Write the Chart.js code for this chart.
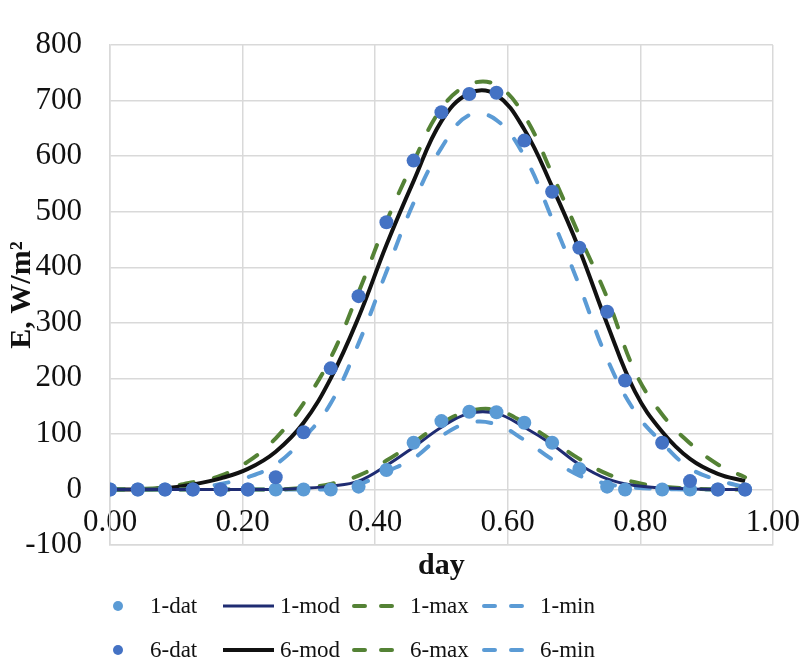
<!DOCTYPE html>
<html>
<head>
<meta charset="utf-8">
<title>Irradiance over the day</title>
<script src="https://cdn.jsdelivr.net/npm/chart.js@4.4.1/dist/chart.umd.min.js"></script>
<style>
  html, body { margin: 0; padding: 0; background: #ffffff; }
  #wrap { width: 805px; height: 670px; }
</style>
</head>
<body>
<div id="wrap"><canvas id="chart" width="805" height="670"></canvas></div>
<script>
// Measurement times (fraction of a day)
const datDays = [0.000, 0.042, 0.083, 0.125, 0.167, 0.208, 0.250, 0.292, 0.333, 0.375, 0.417, 0.458,
                 0.500, 0.542, 0.583, 0.625, 0.667, 0.708, 0.750, 0.777, 0.833, 0.875, 0.917, 0.958];
// Model evaluation times (fraction of a day)
const modelDays = [0.000, 0.042, 0.083, 0.125, 0.167, 0.208, 0.250, 0.292, 0.333, 0.375, 0.417, 0.458,
                   0.500, 0.542, 0.583, 0.625, 0.667, 0.708, 0.750, 0.792, 0.833, 0.875, 0.917, 0.958];

// Irradiance E, W/m2
const dat1 = [0, 0, 0, 0, 0, 0, 0, 0, 0, 5, 35, 84, 123, 140, 139, 120, 84, 37, 5, 0, 0, 0, 0, 0];
const mod1 = [0, 0, 0, 0, 0, 0, 0, 2, 6, 15, 43, 76, 112, 137, 137, 112, 81, 45, 19, 7, 3, 1, 0, 0];
const max1 = [0, 0, 0, 0, 0, 0, 0, 3, 10, 25, 52, 84, 119, 141, 143, 120, 88, 55, 28, 13, 5, 2, 0, 0];
const min1 = [0, 0, 0, 0, 0, 0, 0, 0, 1, 9, 32, 56, 96, 120, 117, 89, 54, 25, 10, 3, 1, 0, 0, 0];

const dat6 = [0, 0, 0, 0, 0, 0, 22, 103, 218, 348, 481, 592, 679, 712, 714, 628, 536, 435, 320, 196, 84, 15, 0, 0];
const mod6 = [0, 0, 2, 9, 20, 37, 68, 120, 200, 310, 440, 555, 663, 713, 710, 648, 545, 432, 298, 176, 104, 55, 28, 15];
const max6 = [0, 1, 4, 13, 25, 50, 92, 155, 237, 355, 482, 590, 686, 729, 728, 673, 568, 457, 345, 212, 135, 83, 45, 22];
const min6 = [0, 0, 0, 2, 10, 22, 45, 92, 155, 263, 392, 516, 615, 674, 665, 600, 487, 367, 235, 140, 84, 38, 17, 4];

// Axis ticks
const xTickValues = [0, 0.2, 0.4, 0.6, 0.8, 1.0];
const yTickValues = [-100, 0, 100, 200, 300, 400, 500, 600, 700, 800];

const COLORS = {
  light: '#5b9bd5',
  dark: '#4472c4',
  navy: '#1f2c72',
  black: '#111111',
  green: '#548235',
  grid: '#d9d9d9',
  text: '#111111'
};
const SERIF = '"Liberation Serif", "Times New Roman", serif';

const pts = (xs, ys) => xs.map((x, i) => ({ x: x, y: ys[i] }));

const markerSet = (label, xs, ys, color, order) => ({
  label, data: pts(xs, ys), showLine: false,
  pointRadius: 7, pointHoverRadius: 7, pointBorderWidth: 0,
  pointBackgroundColor: color, backgroundColor: color, borderColor: color,
  order
});
const curveSet = (label, ys, color, width, dash) => ({
  label, data: pts(modelDays, ys), showLine: true,
  borderColor: color, backgroundColor: color, borderWidth: width,
  borderDash: dash || [], borderCapStyle: dash ? 'round' : 'butt', borderJoinStyle: 'round',
  pointRadius: 0, pointHoverRadius: 0, tension: 0.4, fill: false,
  order: 2
});

const LONG_DASH = [14, 21];

const datasets = [
  markerSet('1-dat', datDays, dat1, COLORS.light, 1),
  curveSet('1-mod', mod1, COLORS.navy, 3),
  curveSet('1-max', max1, COLORS.green, 4, LONG_DASH),
  curveSet('1-min', min1, COLORS.light, 4, LONG_DASH),
  markerSet('6-dat', datDays, dat6, COLORS.dark, 0),
  curveSet('6-mod', mod6, COLORS.black, 4),
  curveSet('6-max', max6, COLORS.green, 4, LONG_DASH),
  curveSet('6-min', min6, COLORS.light, 4, LONG_DASH)
];

// Two-row legend under the plot: symbol span and text start for each column
const legendLayout = {
  rowY: [607, 651],
  cols: [
    { from: 118, to: 118, text: 150 },
    { from: 223, to: 274, text: 280 },
    { from: 352, to: 394, text: 410 },
    { from: 482, to: 524, text: 540 }
  ],
  fontSize: 23,
  markerRadius: 5,
  dashWidth: 4
};

const seriesLegend = {
  id: 'seriesLegend',
  afterDraw(chart) {
    const ctx = chart.ctx;
    const sets = chart.data.datasets;
    const L = legendLayout;
    ctx.save();
    ctx.font = L.fontSize + 'px ' + SERIF;
    ctx.textBaseline = 'middle';
    ctx.textAlign = 'left';
    L.rowY.forEach((y, r) => {
      L.cols.forEach((col, c) => {
        const ds = sets[r * L.cols.length + c];
        if (!ds) return;
        const sy = y - 1;
        if (!ds.showLine) {
          ctx.fillStyle = ds.pointBackgroundColor;
          ctx.beginPath();
          ctx.arc(col.from, sy, L.markerRadius, 0, Math.PI * 2);
          ctx.fill();
        } else if (ds.borderDash && ds.borderDash.length) {
          const w = L.dashWidth;
          const half = w / 2;
          const seg = ((col.to - col.from) - 12) / 2 - w;
          ctx.strokeStyle = ds.borderColor;
          ctx.lineWidth = w;
          ctx.lineCap = 'round';
          ctx.beginPath();
          ctx.moveTo(col.from + half, sy);
          ctx.lineTo(col.from + half + seg, sy);
          ctx.moveTo(col.to - half - seg, sy);
          ctx.lineTo(col.to - half, sy);
          ctx.stroke();
        } else {
          ctx.strokeStyle = ds.borderColor;
          ctx.lineWidth = ds.borderWidth;
          ctx.lineCap = 'butt';
          ctx.beginPath();
          ctx.moveTo(col.from, sy);
          ctx.lineTo(col.to, sy);
          ctx.stroke();
        }
        ctx.fillStyle = COLORS.text;
        ctx.fillText(ds.label, col.text, y);
      });
    });
    ctx.restore();
  }
};

const tickFont = { family: SERIF, size: 31, lineHeight: 1.1 };
const titleFont = { family: SERIF, size: 30, weight: 'bold', lineHeight: 1.2 };

new Chart(document.getElementById('chart'), {
  type: 'scatter',
  data: { datasets },
  plugins: [seriesLegend],
  options: {
    responsive: false,
    animation: false,
    events: [],
    layout: { padding: { left: 0, right: 32, top: 18, bottom: 80 } },
    plugins: {
      legend: { display: false },
      tooltip: { enabled: false },
      title: { display: false }
    },
    scales: {
      x: {
        type: 'linear',
        min: 0, max: 1,
        afterBuildTicks: (s) => { s.ticks = xTickValues.map(v => ({ value: v })); },
        afterFit: (s) => { s.height = 45; },
        ticks: {
          // labels sit just under the zero line, inside the plot
          mirror: true,
          font: tickFont, color: COLORS.text, padding: 5,
          maxRotation: 0, autoSkip: false,
          callback: (v) => Number(v).toFixed(2)
        },
        grid: { color: COLORS.grid, lineWidth: 1.5, drawTicks: false },
        border: { color: COLORS.grid, width: 1.5 },
        title: {
          display: true, text: 'day', color: COLORS.text, font: titleFont,
          padding: { top: 0, bottom: 6 }
        }
      },
      y: {
        type: 'linear',
        min: -100, max: 800,
        afterBuildTicks: (s) => { s.ticks = yTickValues.map(v => ({ value: v })); },
        afterFit: (s) => { s.width = 110; },
        ticks: {
          font: tickFont, color: COLORS.text, padding: 28,
          callback: (v) => String(v)
        },
        grid: { color: COLORS.grid, lineWidth: 1.5, drawTicks: false },
        border: { color: COLORS.grid, width: 1.5 },
        title: {
          display: true, text: 'E, W/m²', color: COLORS.text, font: titleFont,
          padding: { top: 4, bottom: 0 }
        }
      }
    }
  }
});
</script>
</body>
</html>
